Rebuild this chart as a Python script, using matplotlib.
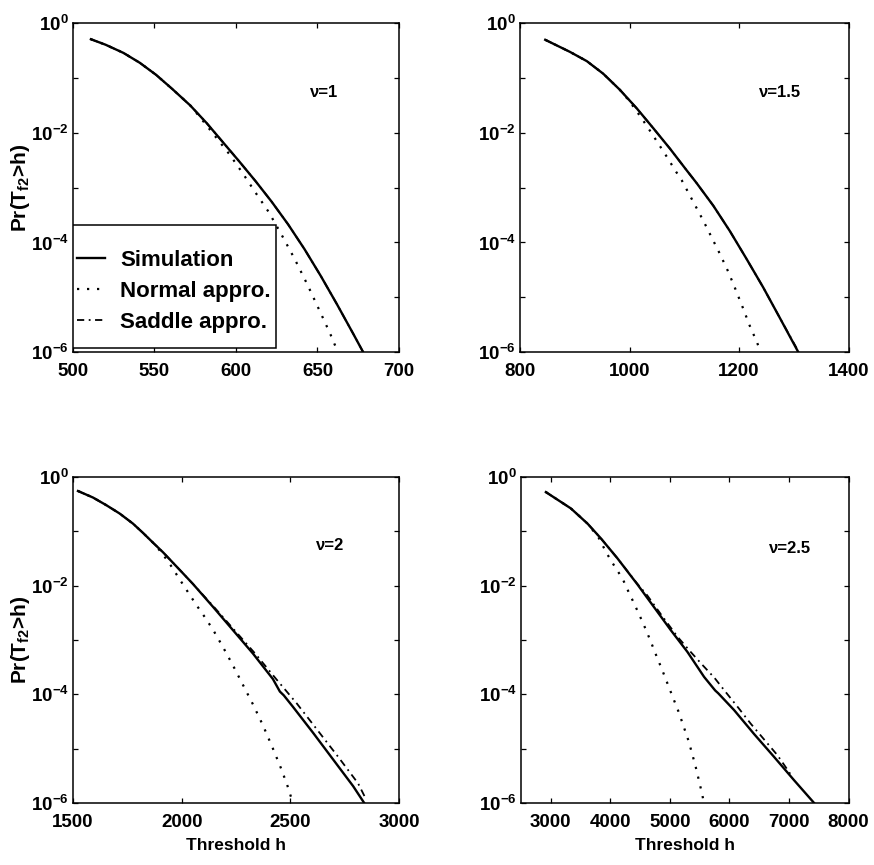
import numpy as np
import matplotlib
matplotlib.use("Agg")
import matplotlib.pyplot as plt
from matplotlib.patches import Rectangle
from matplotlib.ticker import FixedLocator, FuncFormatter

plt.rcParams['font.family'] = ['Liberation Sans', 'DejaVu Sans']
plt.rcParams['font.weight'] = 'bold'
plt.rcParams['axes.labelweight'] = 'bold'
plt.rcParams['mathtext.fontset'] = 'custom'
plt.rcParams['mathtext.rm'] = 'Liberation Sans:bold'
plt.rcParams['mathtext.bf'] = 'Liberation Sans:bold'

# --- values: threshold h and log10 Pr(T > h) ---
# nu = 1
h1_sim = [511, 520, 531, 541, 551, 561, 572, 582, 592, 602, 612, 622, 632, 642, 652, 662, 672, 678]
lp1_sim = [-0.29, -0.39, -0.54, -0.72, -0.94, -1.20, -1.50, -1.82, -2.17, -2.52, -2.88, -3.26,
           -3.67, -4.12, -4.61, -5.13, -5.67, -6.0]
h1_norm = [511, 520, 531, 541, 551, 561, 572, 580, 588, 596, 604, 612, 620, 628, 636, 644, 652, 658, 662.5]
lp1_norm = [-0.29, -0.39, -0.54, -0.72, -0.94, -1.20, -1.50, -1.79, -2.09, -2.39, -2.73, -3.09,
            -3.44, -3.86, -4.30, -4.78, -5.29, -5.68, -6.0]
h1_sad = [511, 520, 531, 541, 551, 561, 572, 582, 592, 602, 612, 622, 632, 642, 652, 662, 672, 678]
lp1_sad = [-0.29, -0.39, -0.54, -0.72, -0.94, -1.20, -1.50, -1.82, -2.17, -2.52, -2.88, -3.26,
           -3.67, -4.12, -4.61, -5.13, -5.67, -6.0]

# nu = 1.5
h2_sim = [846, 891, 922, 952, 982, 1013, 1043, 1074, 1104, 1122, 1153, 1183, 1213, 1244, 1274, 1308]
lp2_sim = [-0.30, -0.52, -0.69, -0.92, -1.21, -1.55, -1.91, -2.29, -2.68, -2.91, -3.33, -3.79,
           -4.29, -4.82, -5.37, -6.0]
h2_norm = [846, 891, 922, 952, 982, 998, 1010, 1030, 1049, 1067, 1085, 1095, 1110, 1134, 1150,
           1165, 1180, 1192, 1206, 1219, 1233, 1239]
lp2_norm = [-0.30, -0.52, -0.69, -0.92, -1.21, -1.40, -1.56, -1.85, -2.14, -2.42, -2.71, -2.86,
            -3.14, -3.59, -3.91, -4.21, -4.53, -4.82, -5.17, -5.51, -5.83, -6.0]
h2_sad = [846, 891, 922, 952, 982, 1013, 1043, 1074, 1104, 1122, 1153, 1183, 1213, 1244, 1274, 1309]
lp2_sad = [-0.30, -0.52, -0.69, -0.92, -1.21, -1.55, -1.91, -2.29, -2.68, -2.91, -3.33, -3.79,
           -4.29, -4.82, -5.37, -6.0]

# nu = 2
h3_sim = [1523, 1592, 1653, 1715, 1776, 1822, 1868, 1915, 1960, 2005, 2052, 2144, 2236, 2328,
          2420, 2452, 2470, 2512, 2605, 2697, 2789, 2840]
lp3_sim = [-0.26, -0.38, -0.52, -0.675, -0.86, -1.03, -1.21, -1.39, -1.58, -1.77, -1.97, -2.39,
           -2.82, -3.25, -3.72, -3.95, -4.02, -4.23, -4.71, -5.20, -5.69, -6.0]
h3_norm = [1523, 1592, 1653, 1715, 1776, 1822, 1868, 1911, 1950, 1990, 2029, 2070, 2110, 2147,
           2190, 2235, 2285, 2330, 2375, 2417, 2455, 2485, 2508]
lp3_norm = [-0.26, -0.38, -0.52, -0.675, -0.86, -1.03, -1.21, -1.41, -1.63, -1.88, -2.12, -2.37,
            -2.60, -2.83, -3.13, -3.46, -3.85, -4.20, -4.58, -4.97, -5.34, -5.66, -5.95]
h3_sad = [1523, 1592, 1653, 1715, 1776, 1822, 1868, 1915, 1960, 2005, 2052, 2148, 2243, 2338,
          2435, 2530, 2625, 2720, 2812, 2847]
lp3_sad = [-0.26, -0.38, -0.52, -0.675, -0.86, -1.03, -1.21, -1.39, -1.58, -1.77, -1.97, -2.39,
           -2.82, -3.25, -3.72, -4.17, -4.66, -5.15, -5.64, -5.92]

# nu = 2.5
h4_sim = [2919, 3338, 3618, 3841, 4121, 4456, 4736, 5015, 5294, 5574, 5760, 5810, 6077, 6412,
          6747, 7083, 7420]
lp4_sim = [-0.28, -0.58, -0.86, -1.13, -1.50, -1.98, -2.40, -2.82, -3.22, -3.68, -3.93, -3.98,
           -4.29, -4.73, -5.15, -5.58, -6.0]
h4_norm = [2919, 3338, 3618, 3800, 3942, 4080, 4205, 4300, 4400, 4500, 4601, 4690, 4780, 4870,
           4959, 5055, 5149, 5230, 5311, 5375, 5434, 5495, 5546, 5570]
lp4_norm = [-0.28, -0.58, -0.86, -1.11, -1.41, -1.66, -1.87, -2.10, -2.33, -2.57, -2.82, -3.06,
            -3.31, -3.55, -3.80, -4.07, -4.33, -4.59, -4.85, -5.10, -5.34, -5.62, -5.86, -6.0]
h4_sad = [2919, 3338, 3618, 3841, 4121, 4456, 4620, 4870, 5127, 5340, 5546, 5750, 5937, 6150,
          6356, 6580, 6804, 7000, 7050]
lp4_sad = [-0.28, -0.58, -0.86, -1.13, -1.50, -1.97, -2.18, -2.56, -2.94, -3.21, -3.46, -3.70,
           -3.96, -4.25, -4.54, -4.83, -5.12, -5.43, -5.52]

nu_labels = ['ν=1', 'ν=1.5', 'ν=2', 'ν=2.5']
legend_labels = ['Simulation', 'Normal appro.', 'Saddle appro.']
x_limits = [(500, 700), (800, 1400), (1500, 3000), (2500, 8000)]
x_ticks = [[500, 550, 600, 650, 700], [800, 1000, 1200, 1400],
           [1500, 2000, 2500, 3000], [3000, 4000, 5000, 6000, 7000, 8000]]

panels = [
    (h1_sim, lp1_sim, h1_norm, lp1_norm, h1_sad, lp1_sad),
    (h2_sim, lp2_sim, h2_norm, lp2_norm, h2_sad, lp2_sad),
    (h3_sim, lp3_sim, h3_norm, lp3_norm, h3_sad, lp3_sad),
    (h4_sim, lp4_sim, h4_norm, lp4_norm, h4_sad, lp4_sad),
]

# axes boxes in figure fractions (left, bottom, width, height)
boxes = [
    (0.0835, 0.593, 0.373, 0.380),
    (0.595, 0.593, 0.376, 0.380),
    (0.0835, 0.0717, 0.373, 0.377),
    (0.596, 0.0717, 0.375, 0.377),
]
label_pos = [(0.77, 0.79), (0.79, 0.79), (0.79, 0.79), (0.82, 0.78)]

fig = plt.figure(figsize=(8.74, 8.65), dpi=100)


def decade_fmt(v, pos):
    e = int(round(np.log10(v)))
    if e % 2 != 0:
        return ''
    return r'$\mathdefault{10^{%d}}$' % e


for i, (hs, ls, hn, ln, hd, ld) in enumerate(panels):
    ax = fig.add_axes(boxes[i])
    ax.set_yscale('log')
    l_sad, = ax.plot(hd, 10.0 ** np.array(ld), color='black', lw=1.3,
                     linestyle=(0, (4, 2.5, 1, 2.5)))
    l_sim, = ax.plot(hs, 10.0 ** np.array(ls), color='black', lw=1.7, linestyle='-')
    l_norm, = ax.plot(hn, 10.0 ** np.array(ln), color='black', lw=1.6,
                      linestyle=(0, (1, 3.5)))
    ax.set_xlim(*x_limits[i])
    ax.set_ylim(1e-6, 1)
    ax.set_xticks(x_ticks[i])
    ax.yaxis.set_major_locator(FixedLocator([10.0 ** k for k in range(-6, 1)]))
    ax.yaxis.set_major_formatter(FuncFormatter(decade_fmt))
    ax.yaxis.set_minor_locator(FixedLocator([]))
    ax.tick_params(direction='in', top=True, right=True, length=3.5, width=0.9,
                   labelsize=13.5)
    ax.tick_params(axis='x', pad=8)
    ax.tick_params(axis='y', pad=3)
    for sp in ax.spines.values():
        sp.set_linewidth(1.1)
    ax.text(label_pos[i][0], label_pos[i][1], nu_labels[i], transform=ax.transAxes,
            ha='center', va='center', fontsize=12)
    if i in (0, 2):
        ax.set_ylabel(r'Pr(T$_{\mathdefault{f2}}$>h)', fontsize=15, labelpad=-1)
    if i in (2, 3):
        ax.set_xlabel('Threshold h', fontsize=12.5, labelpad=5)
    if i == 0:
        # legend box sitting on the lower left corner of the first panel
        ax.add_patch(Rectangle((0.0, 0.012), 0.623, 0.374, transform=ax.transAxes,
                               facecolor='white', edgecolor='black', lw=1.1, zorder=3))
        ax.legend([l_sim, l_norm, l_sad], legend_labels, loc='upper left',
                  bbox_to_anchor=(0.012, 0.311), borderaxespad=0, borderpad=0,
                  frameon=False, fontsize=16, handlelength=1.25, handletextpad=0.7,
                  labelspacing=0.45)

fig.savefig('out.png', dpi=100)
